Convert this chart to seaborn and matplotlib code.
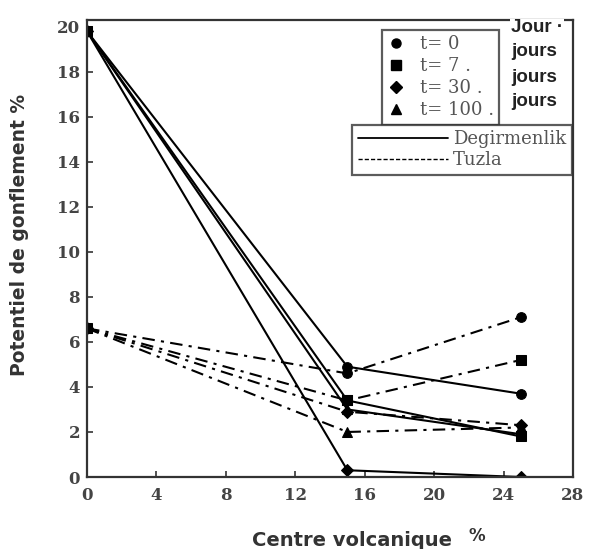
import numpy as np
import pandas as pd
import matplotlib
matplotlib.use("Agg")
import matplotlib.pyplot as plt
from matplotlib.lines import Line2D
import seaborn as sns

# volcanic content (%) on the x axis
volcanic = [0, 15, 25]

# swelling potential (%)
degirmenlik = {
    "t=0": [19.8, 4.9, 3.7],
    "t=7": [19.8, 3.4, 1.8],
    "t=30": [19.8, 0.3, 0.0],
    "t=100": [19.8, 3.0, 1.9],
}
tuzla = {
    "t=0": [6.6, 4.6, 7.1],
    "t=7": [6.6, 3.4, 5.2],
    "t=30": [6.6, 2.9, 2.3],
    "t=100": [6.6, 2.0, 2.2],
}
times = ["t=0", "t=7", "t=30", "t=100"]
time_labels = ["t= 0", "t= 7 .", "t= 30 .", "t= 100 ."]
right_words = ["Jour \u00b7", "jours", "jours", "jours"]
site_labels = ["Degirmenlik", "Tuzla"]
x_ticks = [0, 4, 8, 12, 16, 20, 24, 28]
y_ticks = [0, 2, 4, 6, 8, 10, 12, 14, 16, 18, 20]

markers = {"t=0": "o", "t=7": "s", "t=30": "D", "t=100": "^"}
msizes = {"t=0": 7, "t=7": 7, "t=30": 6.5, "t=100": 7.5}
dashdot = (0, (6, 3, 1.5, 3))

sns.set_style("ticks")
plt.rcParams["font.family"] = ["DejaVu Sans"]

W, H = 592, 549
fig = plt.figure(figsize=(W / 100, H / 100), dpi=100)
ax = fig.add_axes([87 / W, 1 - 477 / H, (573 - 87) / W, (477 - 20) / H])

rows = []
for site, data in [("Degirmenlik", degirmenlik), ("Tuzla", tuzla)]:
    for t in times:
        for x, y in zip(volcanic, data[t]):
            rows.append({"site": site, "t": t, "x": x, "y": y})
df = pd.DataFrame(rows)

for (site, t), sub in df.groupby(["site", "t"]):
    ls = "-" if site == "Degirmenlik" else dashdot
    sns.lineplot(data=sub, x="x", y="y", ax=ax, color="black", lw=1.5,
                 linestyle=ls, marker=markers[t], markersize=msizes[t],
                 markeredgecolor="black", markerfacecolor="black",
                 legend=False)

ax.set_xlim(0, 28)
ax.set_ylim(0, 20.3)
ax.set_xticks(x_ticks)
ax.set_yticks(y_ticks)
ax.tick_params(axis="both", direction="in", length=4, width=1.2,
               color="#333333", labelsize=12, labelcolor="#444444")
ax.tick_params(axis="x", pad=7)
ax.tick_params(axis="y", pad=5)
for lab in ax.get_xticklabels() + ax.get_yticklabels():
    lab.set_fontfamily("DejaVu Serif")
    lab.set_fontweight("bold")
for s in ax.spines.values():
    s.set_linewidth(1.6)
    s.set_color("#333333")

ax.set_xlabel("")
ax.set_ylabel("")
fig.text(20 / W, 1 - 235 / H, "Potentiel de gonflement %", rotation=90,
         ha="center", va="center", fontsize=13.5, fontweight="bold",
         color="#333333")
fig.text(352 / W, 1 - 540 / H, "Centre volcanique", ha="center", va="center",
         fontsize=14, fontweight="bold", color="#333333")
fig.text(477 / W, 1 - 536 / H, "%", ha="center", va="center",
         fontsize=12, fontweight="bold", color="#333333")

# legend of times (markers)
h1 = [Line2D([], [], color="black", marker=markers[t], linestyle="none",
             markersize=6.5) for t in times]
leg1 = ax.legend(h1, time_labels, loc="upper left",
                 bbox_to_anchor=(382 / W, 1 - 30 / H),
                 bbox_transform=fig.transFigure, frameon=True, fancybox=False,
                 edgecolor="#333333", handletextpad=0.8, borderpad=0.3,
                 labelspacing=0.22, handlelength=1.0, borderaxespad=0,
                 prop={"family": "DejaVu Serif", "size": 13})
leg1.get_frame().set_linewidth(1.6)
for txt in leg1.get_texts():
    txt.set_color("#555555")
ax.add_artist(leg1)

# legend of sites (line styles)
h2 = [Line2D([], [], color="black", lw=1.3, linestyle="-"),
      Line2D([], [], color="black", lw=1.0, linestyle=(0, (3, 1.5)))]
leg2 = ax.legend(h2, site_labels, loc="upper right",
                 bbox_to_anchor=(572 / W, 1 - 125 / H),
                 bbox_transform=fig.transFigure, frameon=True, fancybox=False,
                 edgecolor="#333333", handlelength=5.0, handletextpad=0.3,
                 borderpad=0.3, labelspacing=0.15, borderaxespad=0,
                 prop={"family": "DejaVu Serif", "size": 13})
leg2.get_frame().set_linewidth(1.6)
for txt in leg2.get_texts():
    txt.set_color("#555555")

# words to the right of the time legend
for word, yp in zip(right_words, [28, 52, 77, 102]):
    fig.text(511 / W, 1 - yp / H, word, ha="left", va="center",
             fontsize=13.5, fontweight="bold", color="#222222",
             family="Liberation Sans",
             bbox=dict(facecolor="white", edgecolor="none", pad=0.5))

fig.savefig("out.png", dpi=100)
